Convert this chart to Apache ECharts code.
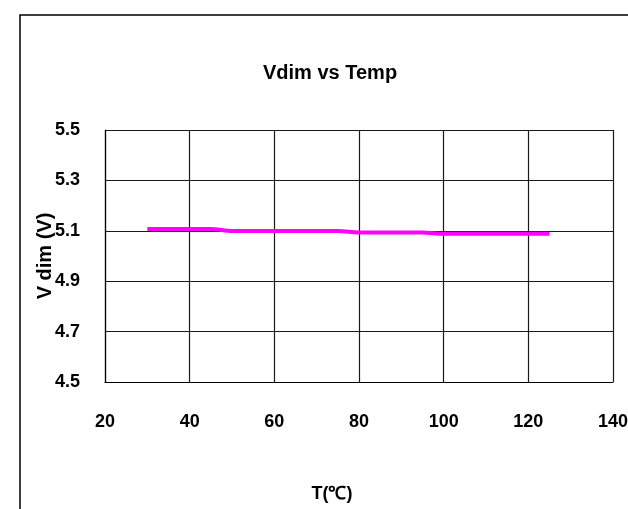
<!DOCTYPE html>
<html>
<head>
<meta charset="utf-8">
<script src="https://cdn.jsdelivr.net/npm/echarts@6/dist/echarts.min.js"></script>
<style>
  html, body { margin: 0; padding: 0; background: #fff; }
  #chart { width: 628px; height: 509px; }
</style>
</head>
<body>
<div id="chart"></div>
<script>
// temperature (C) and Vdim (V)
var temps = [30, 45, 50, 75, 80, 95, 100, 125];
var vdim = [5.107, 5.107, 5.099, 5.099, 5.093, 5.093, 5.088, 5.088];
var xTicks = [20, 40, 60, 80, 100, 120, 140];
var yTicks = [4.5, 4.7, 4.9, 5.1, 5.3, 5.5];

var font = "'Liberation Sans', Arial, sans-serif";

var chart = echarts.init(document.getElementById('chart'), null, { renderer: 'canvas' });

var points = [];
for (var i = 0; i < temps.length; i++) {
  points.push([temps[i], vdim[i]]);
}

chart.setOption({
  animation: false,
  backgroundColor: '#fff',
  graphic: [{
    type: 'rect',
    shape: { x: 20, y: 15, width: 640, height: 520 },
    style: { fill: 'none', stroke: '#000', lineWidth: 1.5 },
    silent: true
  }],
  title: {
    text: 'Vdim vs Temp',
    left: 258,
    top: 58,
    textStyle: { fontFamily: font, fontWeight: 'bold', fontSize: 20, color: '#000' }
  },
  grid: { left: 105, top: 130, right: 15, bottom: 127, outerBoundsMode: 'none', containLabel: false },
  xAxis: {
    type: 'value',
    min: xTicks[0],
    max: xTicks[xTicks.length - 1],
    interval: 20,
    name: 'T(℃)',
    nameLocation: 'middle',
    nameGap: 103,
    nameMoveOverlap: false,
    nameTextStyle: { fontFamily: font, fontWeight: 'bold', fontSize: 18, color: '#000', padding: [0, 54, 0, 0] },
    axisLine: { lineStyle: { color: '#000', width: 1.2 } },
    axisTick: { show: false },
    axisLabel: { margin: 31, fontFamily: font, fontWeight: 'bold', fontSize: 18, color: '#000', hideOverlap: false },
    splitLine: { show: true, lineStyle: { color: '#1a1a1a', width: 1.2 } }
  },
  yAxis: {
    type: 'value',
    min: yTicks[0],
    max: yTicks[yTicks.length - 1],
    interval: 0.2,
    name: 'V dim (V)',
    nameLocation: 'middle',
    nameGap: 50,
    nameMoveOverlap: false,
    nameRotate: 90,
    nameTextStyle: { fontFamily: font, fontWeight: 'bold', fontSize: 20, color: '#000' },
    axisLine: { show: true, lineStyle: { color: '#000', width: 1.2 } },
    axisTick: { show: false },
    axisLabel: {
      margin: 25,
      fontFamily: font, fontWeight: 'bold', fontSize: 18, color: '#000',
      padding: [5, 0, 0, 0],
      formatter: function (v) { return v.toFixed(1); }
    },
    splitLine: { show: true, lineStyle: { color: '#1a1a1a', width: 1.2 } }
  },
  series: [{
    type: 'line',
    data: points,
    smooth: 0.3,
    showSymbol: false,
    lineStyle: { color: '#ff00ff', width: 4 }
  }]
});
</script>
</body>
</html>
